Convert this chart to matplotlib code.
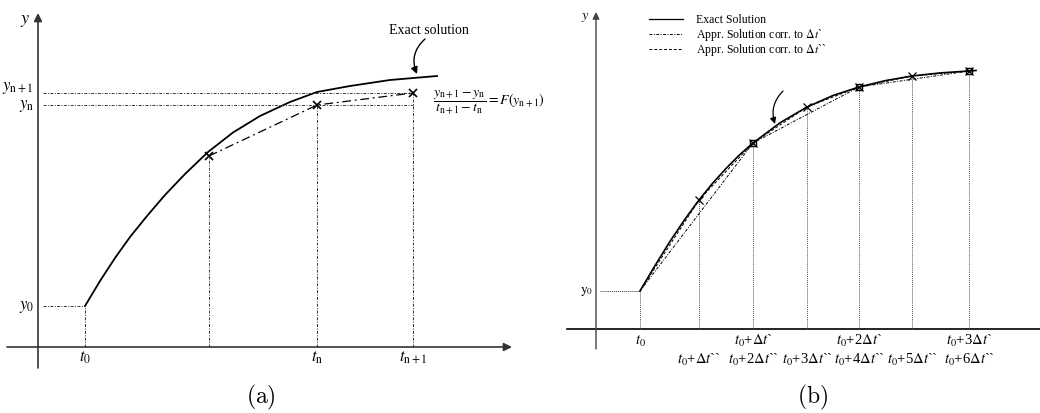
import matplotlib
matplotlib.use("Agg")
import matplotlib.pyplot as plt

plt.rcParams['font.family'] = ['Liberation Serif', 'DejaVu Serif']
plt.rcParams['mathtext.fontset'] = 'stix'

# ---------------- data (a): diagram units, origin at the axes crossing ----------------
exact_a_t = [4.7, 6.2, 7.7, 9.2, 10.9, 12.7, 14.7, 17.0, 19.5, 22.2, 25.2, 27.9, 31.2, 35.2, 39.9]
exact_a_y = [4.1, 6.6, 8.9, 11.0, 13.1, 15.2, 17.3, 19.5, 21.45, 23.1, 24.5, 25.5, 26.1, 26.7, 27.1]
approx_a_t = [17.1, 27.9, 37.5]
approx_a_y = [19.1, 24.2, 25.4]
t_marks_a = [4.7, 27.9, 37.5]
t_labels_a = [r'$t_{0}$', r'$t_{\mathrm{n}}$', r'$t_{\mathrm{n+1}}$']
y_marks_a = [4.1, 24.2, 25.4]
y_labels_a = [r'$y_{0}$', r'$y_{\mathrm{n}}$', r'$y_{\mathrm{n+1}}$']

# ---------------- data (b) ----------------
exact_b_t = [4.4, 5.9, 7.4, 8.9, 10.3, 11.65, 13.0, 14.35, 15.7, 18.4, 21.1, 23.7,
             26.3, 28.95, 31.6, 34.45, 37.3, 38.0]
exact_b_y = [3.8, 6.34, 8.76, 10.99, 12.9, 14.56, 16.05, 17.41, 18.6, 20.62, 22.2, 23.35,
             24.2, 24.84, 25.3, 25.61, 25.8, 25.85]
dt1_t = [4.4, 15.7, 26.3, 37.3]          # step dt`
dt1_y = [3.8, 18.6, 24.2, 25.8]
dt2_t = [4.4, 10.3, 15.7, 21.1, 26.3, 31.6, 37.3]   # step dt``
dt2_y = [3.8, 12.9, 18.6, 22.2, 24.2, 25.3, 25.8]
row1_labels = [r'$t_0$', r'$t_0$+$\Delta t$`', r'$t_0$+2$\Delta t$`', r'$t_0$+3$\Delta t$`']
row2_labels = [r'$t_0$+$\Delta t$``', r'$t_0$+2$\Delta t$``', r'$t_0$+3$\Delta t$``',
               r'$t_0$+4$\Delta t$``', r'$t_0$+5$\Delta t$``', r'$t_0$+6$\Delta t$``']
legend_labels = ['Exact Solution', 'Appr. Solution corr. to $\\Delta t$`',
                 'Appr. Solution corr. to $\\Delta t$``']

dashdot = (0, (3, 1.5, 1, 1.5))
dotted = (0, (1, 1))

fig = plt.figure(figsize=(10.4, 4.14), dpi=100)

# ======================= panel (a) =======================
ax = fig.add_axes([0, 0, 0.5, 1])
ax.set_xlim(-3.8, 48.2)
ax.set_ylim(-6.6, 34.8)
ax.axis('off')

arrow = dict(arrowstyle='-|>', color='#333333', lw=1.2, mutation_scale=12,
             shrinkA=0, shrinkB=0)
ax.annotate('', xy=(47.4, 0), xytext=(-3.1, 0), arrowprops=arrow)
ax.annotate('', xy=(0, 33.4), xytext=(0, -2.1), arrowprops=arrow)
ax.text(-1.3, 32.8, r'$y$', fontsize=13, ha='center', va='center')

ax.plot(exact_a_t, exact_a_y, color='black', lw=1.3)
ax.plot([0.5, t_marks_a[0]], [y_marks_a[0]] * 2, color='#333333', lw=0.7, ls=dashdot)
for yv in y_marks_a[1:]:
    ax.plot([0.5, t_marks_a[2]], [yv, yv], color='#333333', lw=0.7, ls=dashdot)
ax.plot([t_marks_a[0]] * 2, [0, y_marks_a[0]], color='#333333', lw=0.7, ls=dashdot)
for tv, yv in zip(approx_a_t, approx_a_y):
    ax.plot([tv, tv], [0, yv], color='#333333', lw=0.7, ls=dashdot)
ax.plot(approx_a_t, approx_a_y, color='black', lw=0.9, ls=(0, (7, 3, 1.5, 3)),
        marker='x', ms=6, mew=1.2)

for tv, lab in zip(t_marks_a, t_labels_a):
    ax.text(tv, -1.0, lab, fontsize=12, ha='center', va='center')
offsets = [0, 0, 0.6]
for yv, lab, off in zip(y_marks_a, y_labels_a, offsets):
    ax.text(-0.4, yv + off, lab, fontsize=12, ha='right', va='center')

ax.text(39.1, 31.7, 'Exact solution', fontsize=10, ha='center', va='center')
ax.annotate('', xy=(37.9, 27.3), xytext=(38.7, 30.8),
            arrowprops=dict(arrowstyle='-|>', color='black', lw=1, mutation_scale=10,
                            shrinkA=0, shrinkB=0, connectionstyle='arc3,rad=0.35'))
ax.text(39.5, 24.6,
        r'$\dfrac{y_{\mathrm{n+1}} - y_{\mathrm{n}}}{t_{\mathrm{n+1}} - t_{\mathrm{n}}} = F(y_{\mathrm{n+1}})$',
        fontsize=10, ha='left', va='center', clip_on=False)
ax.text(22.3, -4.9, r'$\mathrm{(a)}$', fontsize=17, ha='center', va='center',
        math_fontfamily='cm')

# ======================= panel (b) =======================
bx = fig.add_axes([0.5, 0, 0.5, 1])
bx.set_xlim(-7.6, 44.4)
bx.set_ylim(-8.4, 33.0)
bx.axis('off')

bx.plot([-2.9, 44.4], [0, 0], color='black', lw=1.2, clip_on=False)
bx.annotate('', xy=(0, 31.7), xytext=(0, -2.0), arrowprops=dict(arrow, color='#444444', lw=1.0,
                                                                mutation_scale=10))
bx.text(-1.1, 31.3, r'$y$', fontsize=10, ha='center', va='center')

bx.plot([0.4, dt2_t[0]], [dt2_y[0]] * 2, color='#333333', lw=0.7, ls=dotted)
for tv, yv in zip(dt2_t, dt2_y):
    bx.plot([tv, tv], [0, yv], color='#555555', lw=0.7, ls=dotted)

bx.plot(exact_b_t, exact_b_y, color='black', lw=1.2)
bx.plot(dt1_t, dt1_y, color='black', lw=0.7, ls=(0, (3, 1.5, 1, 1.5)))
bx.plot(dt2_t, dt2_y, color='black', lw=0.7, ls=(0, (3, 2)))
bx.plot(dt1_t[1:], dt1_y[1:], ls='none', marker='s', ms=5, mfc='none', mec='black', mew=1.0)
bx.plot(dt2_t[1:], dt2_y[1:], ls='none', marker='x', ms=5.5, mec='black', mew=0.9)

bx.text(-0.3, dt2_y[0], r'$\mathrm{y}_0$', fontsize=9.5, ha='right', va='center')
for tv, lab in zip(dt1_t, row1_labels):
    bx.text(tv, -1.1, lab, fontsize=10.5, ha='center', va='center')
for tv, lab in zip(dt2_t[1:], row2_labels):
    bx.text(tv, -3.0, lab, fontsize=10.5, ha='center', va='center')

leg_y = [31.0, 29.5, 28.0]
leg_styles = ['-', (0, (3, 1.5, 1, 1.5)), (0, (3, 2))]
for yv, st, lab in zip(leg_y, leg_styles, legend_labels):
    bx.plot([5.3, 8.7], [yv, yv], color='black', lw=0.9 if st == '-' else 0.7, ls=st)
    bx.text(10.0, yv, lab, fontsize=8.5, ha='left', va='center')

bx.annotate('', xy=(17.9, 20.5), xytext=(18.7, 23.8),
            arrowprops=dict(arrowstyle='-|>', color='black', lw=0.9, mutation_scale=9,
                            shrinkA=0, shrinkB=0, connectionstyle='arc3,rad=0.3'))
bx.text(21.7, -6.7, r'$\mathrm{(b)}$', fontsize=17, ha='center', va='center',
        math_fontfamily='cm')

fig.savefig('out.png', dpi=100)
